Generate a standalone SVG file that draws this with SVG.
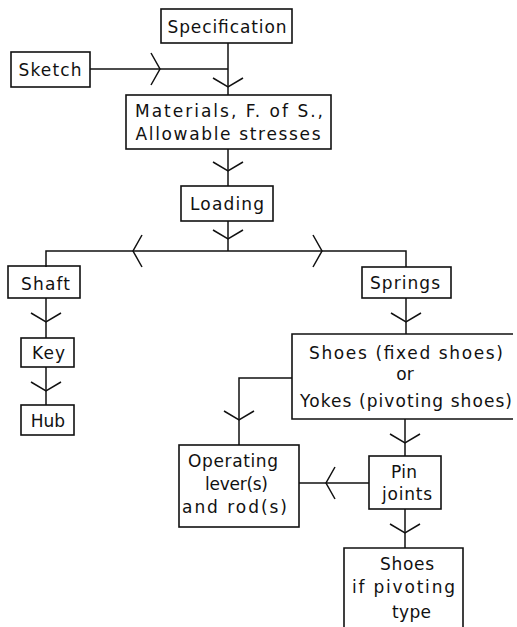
<svg xmlns="http://www.w3.org/2000/svg" xmlns:xlink="http://www.w3.org/1999/xlink" width="517" height="627" viewBox="0 0 517 627">
  <style>
    .box { fill: none; stroke: #111; stroke-width: 1.6; }
    .line { fill: none; stroke: #111; stroke-width: 1.5; }
    .chev { fill: none; stroke: #111; stroke-width: 1.5; stroke-linejoin: miter; }
    text { font-family: "DejaVu Sans", "Liberation Sans", sans-serif; font-size: 17px; fill: #111; text-anchor: middle; }
  </style>
  <defs>
    <!-- open chevron pointing down, tip at origin -->
    <path id="chevDown" class="chev" d="M-15,-9 L0,0 L15,-9"/>
    <!-- open chevron pointing right, tip at origin -->
    <path id="chevRight" class="chev" d="M-9,-16 L0,0 L-9,16"/>
  </defs>

  <rect width="517" height="627" fill="#fff"/>

  <!-- connectors -->
  <g id="connectors">
    <!-- Specification -> Materials -->
    <path class="line" d="M228,43 V95"/>
    <use xlink:href="#chevDown" x="228" y="87"/>
    <!-- Sketch -> junction -->
    <path class="line" d="M90,69 H228"/>
    <use xlink:href="#chevRight" x="160" y="69"/>
    <!-- Materials -> Loading -->
    <path class="line" d="M228,149 V186"/>
    <use xlink:href="#chevDown" x="228" y="171"/>
    <!-- Loading -> Shaft / Springs -->
    <path class="line" d="M228,221 V251"/>
    <use xlink:href="#chevDown" x="228" y="239"/>
    <path class="line" d="M46,267 V251 H406 V267"/>
    <use xlink:href="#chevRight" transform="translate(133,251) rotate(180)"/>
    <use xlink:href="#chevRight" x="322" y="251"/>
    <!-- Shaft -> Key -> Hub -->
    <path class="line" d="M46,298 V338"/>
    <use xlink:href="#chevDown" x="46" y="322"/>
    <path class="line" d="M46,367 V405"/>
    <use xlink:href="#chevDown" x="46" y="391"/>
    <!-- Springs -> Shoes -->
    <path class="line" d="M406,298 V334"/>
    <use xlink:href="#chevDown" x="406" y="322"/>
    <!-- Shoes -> Operating lever(s) -->
    <path class="line" d="M292,378 H239 V445"/>
    <use xlink:href="#chevDown" x="239" y="420"/>
    <!-- Shoes -> Pin joints -->
    <path class="line" d="M405,419 V456"/>
    <use xlink:href="#chevDown" x="405" y="443"/>
    <!-- Pin joints -> Operating lever(s) -->
    <path class="line" d="M369,483 H299"/>
    <use xlink:href="#chevRight" transform="translate(326,483) rotate(180)"/>
    <!-- Pin joints -> Shoes if pivoting -->
    <path class="line" d="M405,509 V548"/>
    <use xlink:href="#chevDown" x="405" y="533"/>
  </g>

  <!-- nodes -->
  <g id="specification">
    <rect class="box" x="161" y="9" width="131" height="34"/>
    <text x="227" y="33" textLength="119" lengthAdjust="spacing">Specification</text>
  </g>
  <g id="sketch">
    <rect class="box" x="11" y="52" width="79" height="35"/>
    <text x="50" y="76" textLength="63" lengthAdjust="spacing">Sketch</text>
  </g>
  <g id="materials">
    <rect class="box" x="126" y="95" width="205" height="54"/>
    <text x="229" y="117" textLength="188" lengthAdjust="spacing">Materials, F. of S.,</text>
    <text x="228" y="140" textLength="185" lengthAdjust="spacing">Allowable stresses</text>
  </g>
  <g id="loading">
    <rect class="box" x="181" y="186" width="92" height="35"/>
    <text x="227" y="210" textLength="74" lengthAdjust="spacing">Loading</text>
  </g>
  <g id="shaft">
    <rect class="box" x="8" y="266" width="72" height="32"/>
    <text x="45.5" y="290" textLength="49" lengthAdjust="spacing">Shaft</text>
  </g>
  <g id="springs">
    <rect class="box" x="362" y="267" width="89" height="31"/>
    <text x="405" y="289" textLength="70" lengthAdjust="spacing">Springs</text>
  </g>
  <g id="key">
    <rect class="box" x="21" y="338" width="53" height="29"/>
    <text x="48.5" y="359" textLength="33" lengthAdjust="spacing">Key</text>
  </g>
  <g id="hub">
    <rect class="box" x="21" y="405" width="53" height="30"/>
    <text x="48" y="427">Hub</text>
  </g>
  <g id="shoes-or-yokes">
    <path class="box" d="M513,334 H292 V419 H513"/>
    <text x="406" y="359" textLength="194" lengthAdjust="spacing">Shoes (fixed shoes)</text>
    <text x="405" y="380">or</text>
    <text x="406" y="407" textLength="212" lengthAdjust="spacing">Yokes (pivoting shoes)</text>
  </g>
  <g id="operating-levers">
    <rect class="box" x="179" y="445" width="120" height="82"/>
    <text x="233" y="467" textLength="90" lengthAdjust="spacing">Operating</text>
    <text x="236.5" y="490" textLength="63" lengthAdjust="spacing">lever(s)</text>
    <text x="234.5" y="513" textLength="105" lengthAdjust="spacing">and rod(s)</text>
  </g>
  <g id="pin-joints">
    <rect class="box" x="369" y="456" width="72" height="53"/>
    <text x="404" y="478" textLength="26" lengthAdjust="spacing">Pin</text>
    <text x="407" y="500" textLength="50" lengthAdjust="spacing">joints</text>
  </g>
  <g id="shoes-pivoting">
    <path class="box" d="M344,627 V548 H463 V627"/>
    <text x="407" y="570" textLength="54" lengthAdjust="spacing">Shoes</text>
    <text x="403.5" y="593" textLength="103" lengthAdjust="spacing">if pivoting</text>
    <text x="411.5" y="618" textLength="39" lengthAdjust="spacing">type</text>
  </g>
</svg>
